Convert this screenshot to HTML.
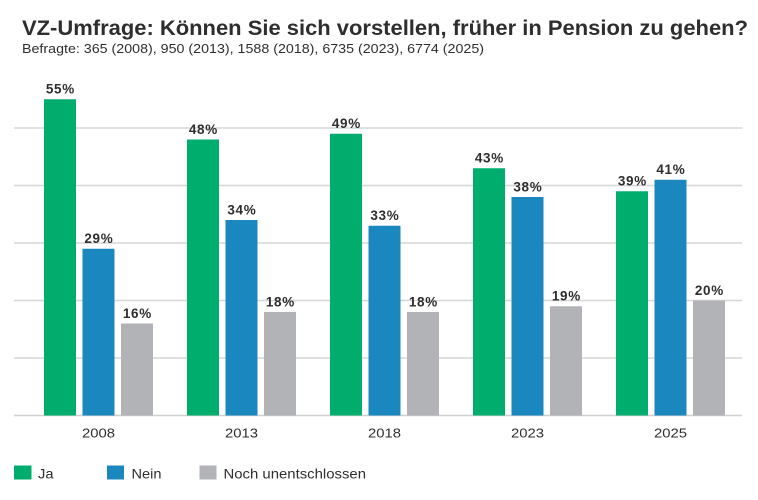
<!DOCTYPE html>
<html><head><meta charset="utf-8"><style>
html,body{margin:0;padding:0;background:#fff;}
svg{display:block;}
text{font-family:"Liberation Sans",Arial,sans-serif;fill:#2e2e2e;}
</style></head><body>
<svg width="758" height="500" viewBox="0 0 758 500" xmlns="http://www.w3.org/2000/svg">
<rect width="758" height="500" fill="#fff"/>
<text x="22" y="35" font-size="21" font-weight="bold" textLength="726" lengthAdjust="spacingAndGlyphs">VZ-Umfrage: Können Sie sich vorstellen, früher in Pension zu gehen?</text>
<text x="22" y="53" font-size="13" textLength="462" lengthAdjust="spacingAndGlyphs" fill="#333">Befragte: 365 (2008), 950 (2013), 1588 (2018), 6735 (2023), 6774 (2025)</text>
<g stroke="#d6d6d6" stroke-width="1.5">
<line x1="14" y1="128" x2="742" y2="128"/>
<line x1="14" y1="185.5" x2="742" y2="185.5"/>
<line x1="14" y1="243" x2="742" y2="243"/>
<line x1="14" y1="300.5" x2="742" y2="300.5"/>
<line x1="14" y1="358" x2="742" y2="358"/>
<line x1="14" y1="415.5" x2="742" y2="415.5" stroke="#cfcfcf"/>
</g>
<g>
<rect x="44" y="99.25" width="32" height="316.25" fill="#00ad6c"/>
<rect x="82.5" y="248.75" width="32" height="166.75" fill="#1b87bf"/>
<rect x="121" y="323.5" width="32" height="92" fill="#b2b3b6"/>
<rect x="187" y="139.5" width="32" height="276" fill="#00ad6c"/>
<rect x="225.5" y="220" width="32" height="195.5" fill="#1b87bf"/>
<rect x="264" y="312" width="32" height="103.5" fill="#b2b3b6"/>
<rect x="330" y="133.75" width="32" height="281.75" fill="#00ad6c"/>
<rect x="368.5" y="225.75" width="32" height="189.75" fill="#1b87bf"/>
<rect x="407" y="312" width="32" height="103.5" fill="#b2b3b6"/>
<rect x="473" y="168.25" width="32" height="247.25" fill="#00ad6c"/>
<rect x="511.5" y="197" width="32" height="218.5" fill="#1b87bf"/>
<rect x="550" y="306.25" width="32" height="109.25" fill="#b2b3b6"/>
<rect x="616" y="191.25" width="32" height="224.25" fill="#00ad6c"/>
<rect x="654.5" y="179.75" width="32" height="235.75" fill="#1b87bf"/>
<rect x="693" y="300.5" width="32" height="115" fill="#b2b3b6"/>
</g>
<g font-size="13.5" font-weight="bold" text-anchor="middle" letter-spacing="0.7">
<text x="60.4" y="93.7">55%</text>
<text x="98.9" y="243.2">29%</text>
<text x="137.4" y="318">16%</text>
<text x="203.4" y="134">48%</text>
<text x="241.9" y="214.5">34%</text>
<text x="280.4" y="306.5">18%</text>
<text x="346.4" y="128.2">49%</text>
<text x="384.9" y="220.2">33%</text>
<text x="423.4" y="306.5">18%</text>
<text x="489.4" y="162.7">43%</text>
<text x="527.9" y="191.5">38%</text>
<text x="566.4" y="300.7">19%</text>
<text x="632.4" y="185.7">39%</text>
<text x="670.9" y="174.2">41%</text>
<text x="709.4" y="295">20%</text>
</g>
<g font-size="12.5" text-anchor="middle" fill="#333">
<text x="98.5" y="437.5" textLength="33" lengthAdjust="spacingAndGlyphs">2008</text>
<text x="241.5" y="437.5" textLength="33" lengthAdjust="spacingAndGlyphs">2013</text>
<text x="384.5" y="437.5" textLength="33" lengthAdjust="spacingAndGlyphs">2018</text>
<text x="527.5" y="437.5" textLength="33" lengthAdjust="spacingAndGlyphs">2023</text>
<text x="670.5" y="437.5" textLength="33" lengthAdjust="spacingAndGlyphs">2025</text>
</g>
<rect x="14" y="465.5" width="17.5" height="14" fill="#00ad6c"/>
<rect x="107" y="465.5" width="17" height="14" fill="#1b87bf"/>
<rect x="199.5" y="465.5" width="17" height="14" fill="#b2b3b6"/>
<g font-size="14">
<text x="38" y="478.5" textLength="15.5" lengthAdjust="spacingAndGlyphs">Ja</text>
<text x="131.5" y="478.5" textLength="30" lengthAdjust="spacingAndGlyphs">Nein</text>
<text x="223.5" y="478.5" textLength="142.5" lengthAdjust="spacingAndGlyphs">Noch unentschlossen</text>
</g>
</svg>
</body></html>
